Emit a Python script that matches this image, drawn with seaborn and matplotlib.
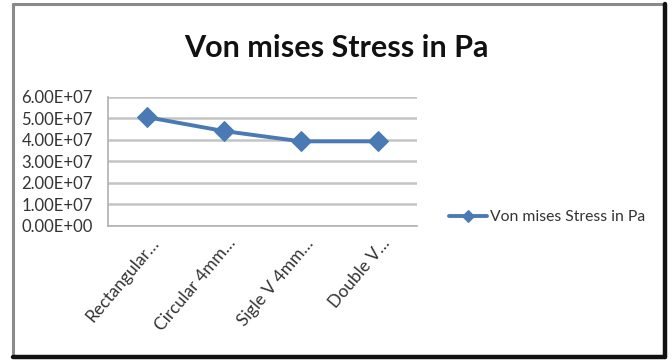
import matplotlib
matplotlib.use("Agg")
import matplotlib.pyplot as plt
import matplotlib.ticker as mticker
import matplotlib.transforms as mtransforms
from matplotlib.lines import Line2D
import pandas as pd
import seaborn as sns

# Data
categories = ["Rectangular\u2026", "Circular 4mm\u2026", "Sigle V 4mm\u2026", "Double V\u2026"]
stress_pa = [5.05e7, 4.40e7, 3.92e7, 3.92e7]
series_name = "Von mises Stress in Pa"
y_ticks = [0, 1e7, 2e7, 3e7, 4e7, 5e7, 6e7]

sns.set_theme(style="white")
plt.rcParams["font.family"] = ["Lato", "DejaVu Sans"]

df = pd.DataFrame({"design": categories, "stress": stress_pa, "series": series_name})

W, H = 672, 363
fig = plt.figure(figsize=(W / 100, H / 100), dpi=100)
fig.patch.set_facecolor("white")

left, right, top, bottom = 108, 417, 96.7, 225.5
ax = fig.add_axes([left / W, 1 - bottom / H, (right - left) / W, (bottom - top) / H])

line_color = "#4A7AB4"
sns.lineplot(data=df, x="design", y="stress", hue="series", palette=[line_color],
             marker="D", markersize=10, linewidth=2.8, sort=False, ax=ax,
             markeredgecolor=line_color, legend=True)

ax.set_xlim(-0.5, len(categories) - 0.5)
ax.set_ylim(0, 6e7)
ax.set_yticks(y_ticks)
ax.yaxis.set_major_formatter(mticker.FuncFormatter(lambda v, p: f"{v:.2E}"))
ax.set_xlabel("")
ax.set_ylabel("")

# Gridlines and axes
ax.grid(axis="y", color="#C4C4C4", linewidth=1.8)
ax.set_axisbelow(True)
for s in ["top", "right"]:
    ax.spines[s].set_visible(False)
ax.spines["left"].set_color("#B0B0B0")
ax.spines["bottom"].set_color("#B0B0B0")
ax.spines["left"].set_linewidth(1.2)
ax.spines["bottom"].set_linewidth(1.2)

ax.tick_params(axis="y", which="major", length=3, color="#B0B0B0", labelsize=12,
               labelcolor="#333333", pad=8)
ax.tick_params(axis="x", which="major", length=0, labelsize=12.5, labelcolor="#333333", pad=2)
ax.set_xticks([i - 0.5 for i in range(len(categories) + 1)], minor=True)
ax.tick_params(axis="x", which="minor", length=4, color="#B0B0B0")

offset = mtransforms.ScaledTranslation(9 / 100, -12 / 100, fig.dpi_scale_trans)
for lbl in ax.get_xticklabels():
    lbl.set_rotation(50)
    lbl.set_ha("right")
    lbl.set_va("center")
    lbl.set_rotation_mode("anchor")
    lbl.set_transform(lbl.get_transform() + offset)

# Legend to the right of the plot
handles, labels = ax.get_legend_handles_labels()
ax.legend_.remove()
fig.legend(handles, labels, loc="center left", bbox_to_anchor=(435 / W, 1 - 217 / H),
           frameon=False, handlelength=2.4, handletextpad=0.2, fontsize=11.3,
           labelcolor="#333333", markerscale=0.6)

# Title
fig.text(336 / W, 1 - 48 / H, "Von mises Stress in Pa", ha="center", va="center",
         fontsize=22, fontweight="bold", color="#111111")

# Chart frame: light top/left edges, dark right/bottom edges
fx0, fx1 = 13 / W, 665 / W
fy0, fy1 = 1 - 357 / H, 1 - 4 / H
fig.add_artist(Line2D([fx0, fx1], [fy1, fy1], color="#8A8A8A", linewidth=2.2, transform=fig.transFigure))
fig.add_artist(Line2D([fx0, fx0], [fy0, fy1], color="#8A8A8A", linewidth=2.2, transform=fig.transFigure))
fig.add_artist(Line2D([fx1, fx1], [fy0, fy1], color="#111111", linewidth=3.2, transform=fig.transFigure))
fig.add_artist(Line2D([fx0, fx1], [fy0, fy0], color="#111111", linewidth=3.2, transform=fig.transFigure))

fig.savefig("out.png", dpi=100, facecolor="white")
